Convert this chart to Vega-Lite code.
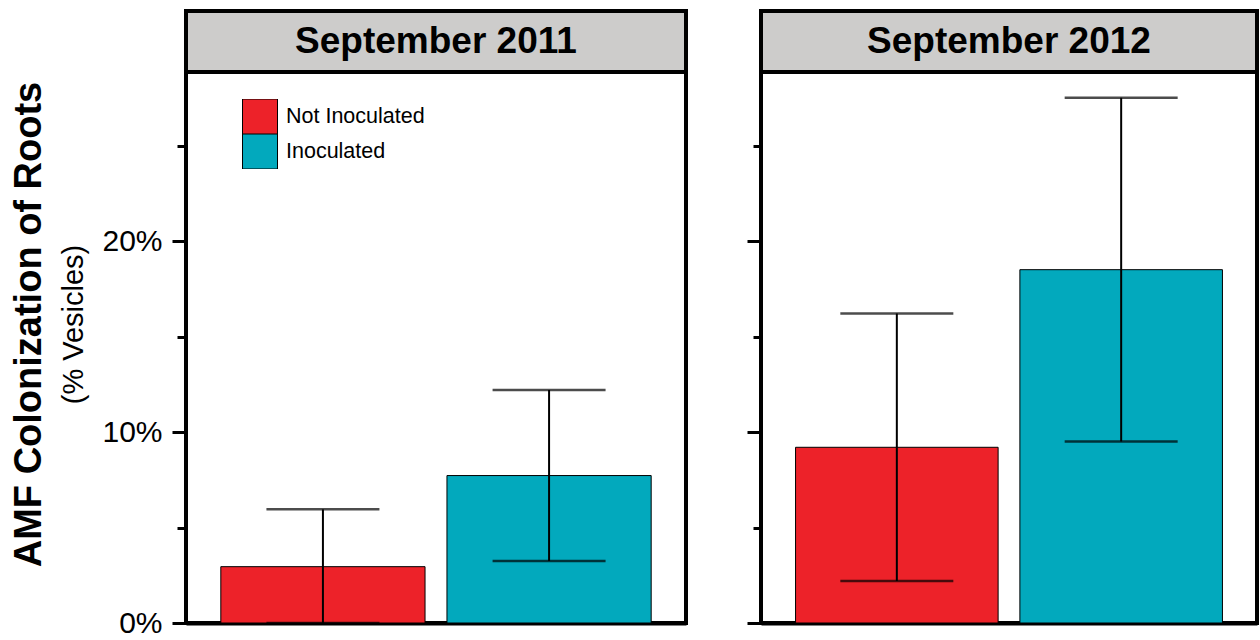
{
  "$schema": "https://vega.github.io/schema/vega-lite/v6.json",
  "padding": {"left": 10, "top": 9, "right": 0, "bottom": 4},
  "title": {
    "text": "AMF Colonization of Roots",
    "subtitle": "(% Vesicles)",
    "orient": "left",
    "anchor": "middle",
    "font": "Liberation Sans",
    "fontSize": 38,
    "fontWeight": "bold",
    "color": "black",
    "subtitleFont": "Liberation Sans",
    "subtitleFontSize": 29,
    "subtitleColor": "black",
    "subtitlePadding": 11,
    "offset": 11
  },
  "datasets": {
    "bars": [
      {"period": "September 2011", "treatment": "Not Inoculated", "mean": 2.95, "lo": 0.0, "hi": 5.95},
      {"period": "September 2011", "treatment": "Inoculated", "mean": 7.72, "lo": 3.25, "hi": 12.2},
      {"period": "September 2012", "treatment": "Not Inoculated", "mean": 9.2, "lo": 2.2, "hi": 16.2},
      {"period": "September 2012", "treatment": "Inoculated", "mean": 18.5, "lo": 9.5, "hi": 27.5}
    ],
    "panels": [
      {"period": "September 2011"},
      {"period": "September 2012"}
    ]
  },
  "spacing": 55,
  "hconcat": [
    {
      "spacing": 0,
      "bounds": "flush",
      "vconcat": [
        {
          "width": 500,
          "height": 61,
          "view": {"fill": "#cdcccb", "stroke": "black", "strokeWidth": 4},
          "data": {"name": "panels"},
          "transform": [{"filter": "datum.period === 'September 2011'"}],
          "mark": {"type": "text", "font": "Liberation Sans", "fontSize": 37, "fontWeight": "bold", "color": "black", "baseline": "middle", "align": "center"},
          "encoding": {"text": {"field": "period", "type": "nominal"}}
        },
        {
          "width": 500,
          "height": 551,
          "data": {"name": "bars"},
          "transform": [{"filter": "datum.period === 'September 2011'"}],
          "encoding": {
            "x": {
              "field": "treatment", "type": "nominal", "sort": ["Not Inoculated", "Inoculated"],
              "scale": {"paddingInner": 0.097, "paddingOuter": 0.154},
              "axis": {"labels": false, "ticks": false, "title": null, "domain": true, "domainWidth": 4, "domainColor": "black"}
            }
          },
          "layer": [
            {
              "mark": {"type": "bar", "stroke": "black", "strokeWidth": 1},
              "encoding": {
                "y": {
                  "field": "mean", "type": "quantitative", "title": null,
                  "scale": {"domain": [0, 28.85], "nice": false},
                  "axis": {
                    "values": [0, 5, 10, 15, 20, 25],
                    "labelExpr": "datum.value % 10 === 0 ? datum.value + '%' : ''",
                    "grid": false, "domain": false,
                    "tickColor": "black", "tickWidth": 3,
                    "tickSize": {"condition": {"test": "datum.value % 10 === 0", "value": 14}, "value": 9},
                    "labelFont": "Liberation Sans", "labelFontSize": 30, "labelColor": "black",
                    "labelPadding": 10
                  }
                },
                "color": {
                  "field": "treatment", "type": "nominal",
                  "scale": {"domain": ["Not Inoculated", "Inoculated"], "range": ["#ed2229", "#02a9bd"]},
                  "legend": {
                    "title": null, "orient": "none", "legendX": 56, "legendY": 88,
                    "symbolType": "square", "symbolSize": 1225, "symbolStrokeColor": "black", "symbolStrokeWidth": 1,
                    "labelFont": "Liberation Sans", "labelFontSize": 21.5, "labelColor": "black",
                    "rowPadding": 0, "clipHeight": 35, "labelOffset": 8, "padding": 0
                  }
                }
              }
            },
            {
              "mark": {"type": "rule", "color": "black", "strokeWidth": 2},
              "encoding": {
                "y": {"field": "lo", "type": "quantitative", "title": null},
                "y2": {"field": "hi"}
              }
            },
            {
              "mark": {"type": "tick", "color": "black", "thickness": 2.5, "size": 113, "orient": "horizontal"},
              "encoding": {"y": {"field": "hi", "type": "quantitative", "title": null}}
            },
            {
              "mark": {"type": "tick", "color": "black", "thickness": 2.5, "size": 113, "orient": "horizontal"},
              "encoding": {"y": {"field": "lo", "type": "quantitative", "title": null}}
            }
          ]
        }
      ]
    },
    {
      "spacing": 0,
      "bounds": "flush",
      "vconcat": [
        {
          "width": 496,
          "height": 61,
          "view": {"fill": "#cdcccb", "stroke": "black", "strokeWidth": 4},
          "data": {"name": "panels"},
          "transform": [{"filter": "datum.period === 'September 2012'"}],
          "mark": {"type": "text", "font": "Liberation Sans", "fontSize": 37, "fontWeight": "bold", "color": "black", "baseline": "middle", "align": "center"},
          "encoding": {"text": {"field": "period", "type": "nominal"}}
        },
        {
          "width": 496,
          "height": 551,
          "data": {"name": "bars"},
          "transform": [{"filter": "datum.period === 'September 2012'"}],
          "encoding": {
            "x": {
              "field": "treatment", "type": "nominal", "sort": ["Not Inoculated", "Inoculated"],
              "scale": {"paddingInner": 0.097, "paddingOuter": 0.154},
              "axis": {"labels": false, "ticks": false, "title": null, "domain": true, "domainWidth": 4, "domainColor": "black"}
            }
          },
          "layer": [
            {
              "mark": {"type": "bar", "stroke": "black", "strokeWidth": 1},
              "encoding": {
                "y": {
                  "field": "mean", "type": "quantitative", "title": null,
                  "scale": {"domain": [0, 28.85], "nice": false},
                  "axis": {
                    "values": [0, 5, 10, 15, 20, 25],
                    "labels": false,
                    "grid": false, "domain": false,
                    "tickColor": "black", "tickWidth": 3,
                    "tickSize": {"condition": {"test": "datum.value % 10 === 0", "value": 14}, "value": 8}
                  }
                },
                "color": {
                  "field": "treatment", "type": "nominal",
                  "scale": {"domain": ["Not Inoculated", "Inoculated"], "range": ["#ed2229", "#02a9bd"]},
                  "legend": {
                    "title": null, "orient": "none", "legendX": 56, "legendY": 88,
                    "symbolType": "square", "symbolSize": 1225, "symbolStrokeColor": "black", "symbolStrokeWidth": 1,
                    "labelFont": "Liberation Sans", "labelFontSize": 21.5, "labelColor": "black",
                    "rowPadding": 0, "clipHeight": 35, "labelOffset": 8, "padding": 0
                  }
                }
              }
            },
            {
              "mark": {"type": "rule", "color": "black", "strokeWidth": 2},
              "encoding": {
                "y": {"field": "lo", "type": "quantitative", "title": null},
                "y2": {"field": "hi"}
              }
            },
            {
              "mark": {"type": "tick", "color": "black", "thickness": 2.5, "size": 113, "orient": "horizontal"},
              "encoding": {"y": {"field": "hi", "type": "quantitative", "title": null}}
            },
            {
              "mark": {"type": "tick", "color": "black", "thickness": 2.5, "size": 113, "orient": "horizontal"},
              "encoding": {"y": {"field": "lo", "type": "quantitative", "title": null}}
            }
          ]
        }
      ]
    }
  ],
  "config": {
    "view": {"stroke": "black", "strokeWidth": 4},
    "font": "Liberation Sans"
  }
}
